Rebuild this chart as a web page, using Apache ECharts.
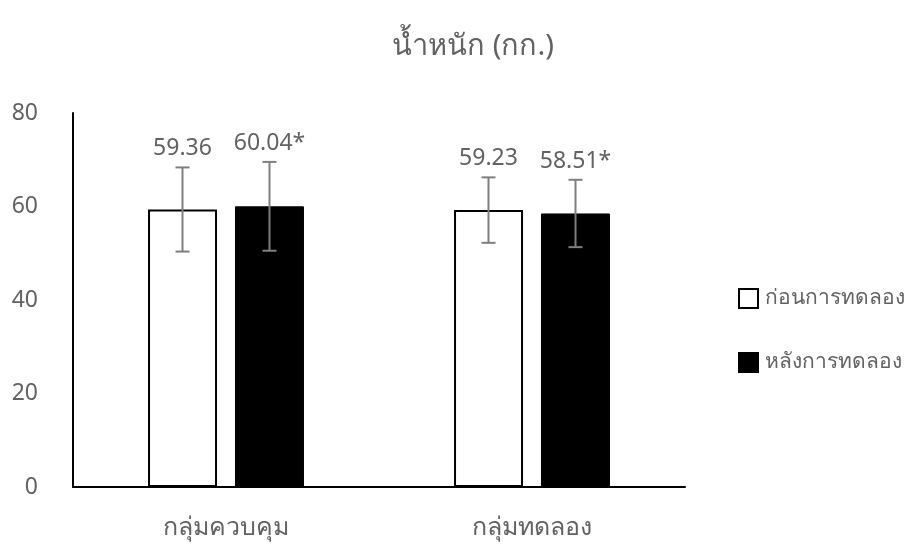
<!DOCTYPE html>
<html><head><meta charset="utf-8">
<script src="https://cdn.jsdelivr.net/npm/echarts@6/dist/echarts.min.js"></script>
<style>html,body{margin:0;padding:0;background:#fff}#c{width:915px;height:550px}</style>
</head><body><div id="c"></div>
<script>
const categories = ['กลุ่มควบคุม', 'กลุ่มทดลอง'];
const seriesNames = ['ก่อนการทดลอง', 'หลังการทดลอง'];
const beforeValues = [59.36, 59.23];
const afterValues = [60.04, 58.51];
const beforeSD = [9.0, 7.0];
const afterSD = [9.5, 7.2];
const beforeLabels = ['59.36', '59.23'];
const afterLabels = ['60.04*', '58.51*'];
const yTicks = [0, 20, 40, 60, 80];

const FONT = '"Noto Sans", "Open Sans", sans-serif';
const TXT = '#626262';
const chart = echarts.init(document.getElementById('c'));

function errSeries(values, sds, labels, offsetIdx) {
  return {
    type: 'custom',
    z: 10,
    data: values.map((v, i) => [i, v, sds[i]]),
    renderItem: function (params, api) {
      const idx = api.value(0);
      const v = api.value(1), sd = api.value(2);
      const center = api.coord([idx, v]);
      const barW = 69, gap = 18;
      const x = center[0] + (offsetIdx === 0 ? -(gap / 2 + barW / 2) : (gap / 2 + barW / 2));
      const top = api.coord([idx, v + sd])[1];
      const bot = api.coord([idx, v - sd])[1];
      const cap = 7;
      const st = { stroke: '#7f7f7f', lineWidth: 2 };
      return {
        type: 'group',
        children: [
          { type: 'line', shape: { x1: x, y1: top, x2: x, y2: bot }, style: st },
          { type: 'line', shape: { x1: x - cap, y1: top, x2: x + cap, y2: top }, style: st },
          { type: 'line', shape: { x1: x - cap, y1: bot, x2: x + cap, y2: bot }, style: st },
          { type: 'text', style: { text: labels[idx], x: x, y: top - 7, align: 'center', verticalAlign: 'bottom',
              fill: TXT, font: '23px ' + FONT } }
        ]
      };
    }
  };
}

chart.setOption({
  animation: false,
  title: {
    text: 'น้ำหนัก (กก.)', left: 468, top: 27, textAlign: 'center',
    textStyle: { color: TXT, fontSize: 29, fontWeight: 'normal', fontFamily: FONT }
  },
  legend: {
    orient: 'vertical', left: 733, top: 283, itemWidth: 19, itemHeight: 19, itemGap: 43,
    icon: 'rect',
    data: seriesNames,
    textStyle: { color: TXT, fontSize: 21, fontFamily: FONT, padding: [0, 0, 0, 2] }
  },
  grid: { left: 73, right: 230, top: 113, bottom: 63, containLabel: false },
  xAxis: {
    type: 'category', data: categories,
    axisLine: { lineStyle: { color: '#000', width: 2 } },
    axisTick: { show: false },
    axisLabel: { color: TXT, fontSize: 25, fontFamily: FONT, margin: 28 }
  },
  yAxis: {
    type: 'value', min: 0, max: 80, interval: 20,
    axisLine: { show: true, lineStyle: { color: '#000', width: 2 } },
    axisTick: { show: false },
    splitLine: { show: false },
    axisLabel: { color: TXT, fontSize: 23, fontFamily: FONT, margin: 35,
      formatter: v => yTicks.includes(v) ? String(v) : '' }
  },
  series: [
    { name: seriesNames[0], type: 'bar', data: beforeValues, barWidth: 69, barGap: '26%',
      itemStyle: { color: '#fff', borderColor: '#000', borderWidth: 2 } },
    { name: seriesNames[1], type: 'bar', data: afterValues, barWidth: 69,
      itemStyle: { color: '#000', borderColor: '#000', borderWidth: 1 } },
    errSeries(beforeValues, beforeSD, beforeLabels, 0),
    errSeries(afterValues, afterSD, afterLabels, 1)
  ]
});
</script></body></html>
